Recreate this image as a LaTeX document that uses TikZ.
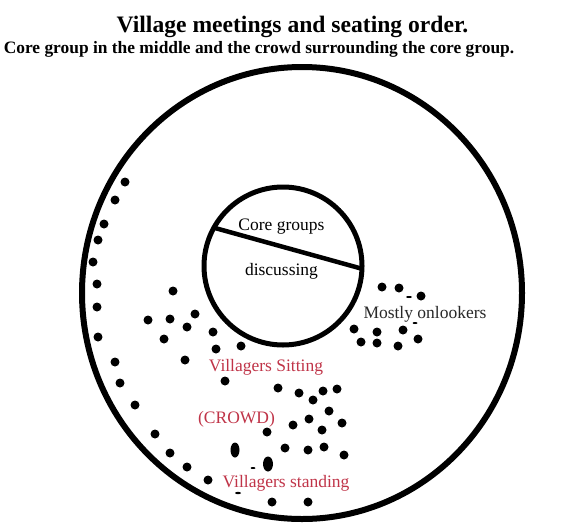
\documentclass[tikz,border=0pt]{standalone}
\usepackage{fontspec}
\setmainfont{Liberation Serif}
\definecolor{crowdred}{RGB}{192,52,72}
\definecolor{greytext}{RGB}{40,40,40}
\begin{document}
\begin{tikzpicture}[x=1pt,y=-1pt,
  bodytext/.style={font=\fontsize{17.5}{20}\selectfont, anchor=base, inner sep=0pt},
  redtext/.style={bodytext, text=crowdred},
  person/.style={fill=black},
]
\useasboundingbox (0,0) rectangle (561,522);
\fill[white] (0,0) rectangle (561,522);
% titles
\node[anchor=base, inner sep=0pt, font=\fontsize{23.6}{28}\selectfont\bfseries] (title) at (292.5,32) {Village meetings and seating order.};
\node[anchor=base, inner sep=0pt, font=\fontsize{17.4}{20}\selectfont\bfseries] (subtitle) at (259,53) {Core group in the middle and the crowd surrounding the core group.};
% outer ring
\draw[line width=6pt] (302,293) ellipse [x radius=220, y radius=226];
% core circle
\node[draw, circle, line width=5pt, minimum size=158pt, inner sep=0pt, outer sep=0pt] (core) at (283,266) {};
\draw[line width=4.5pt] (core.151.5) -- (core.-2.3);
\node[bodytext] (coretxt) at (281.5,230) {Core groups};
\node[bodytext] (disctxt) at (281.5,275) {discussing};
\node[bodytext, text=greytext] (onlook) at (425,318) {Mostly onlookers};
\node[redtext] (sitting) at (266,371) {Villagers Sitting};
\node[redtext] (crowd) at (236.5,423) {(CROWD)};
\node[redtext] (standing) at (286,487) {Villagers standing};
% people
\foreach \p in {(125,182),(115,200),(104,224),(98,240),(93,262),(97,284),(97,307),(98,337),(115,362),(120,383),(135,405),(155,434),(170,453),(187,467),(208,480),
  (173,291),(148,320),(170,319),(195,314),(187,327),(164,339),(213,332),(216,349),(241,346),(185,360),(225,381),
  (278,388),(299,393),(313,400),(323,391),(337,389),(329,411),(309,419),(293,425),(322,430),(342,423),(267,432),(285,448),(308,450),(324,447),(344,455),(272,502),(308,502),
  (382,287),(399,288),(421,296),(354,329),(377,332),(403,330),(418,339),(361,342),(377,343),(398,346)}
  \fill[person] \p circle[radius=4.5];
\fill[person] (235,450) ellipse [x radius=4.5, y radius=7.5];
\fill[person] (268,464) ellipse [x radius=5, y radius=7.5];
\fill[person] (253,468) ellipse [x radius=2.5, y radius=1];
\fill[person] (238,493) ellipse [x radius=3, y radius=1.2];
\fill[person] (409,297) ellipse [x radius=3, y radius=1];
\fill[person] (415,323) ellipse [x radius=2.5, y radius=1];
\end{tikzpicture}
\end{document}
